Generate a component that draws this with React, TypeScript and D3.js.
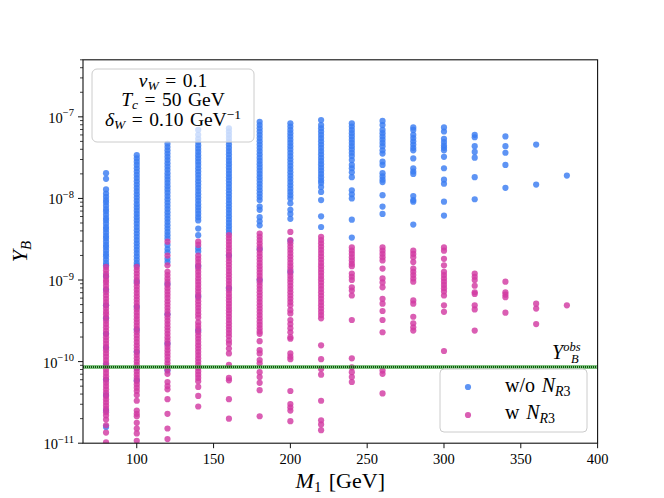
import { useEffect, useRef } from "react";
import * as d3 from "d3";

// M_1 [GeV] of every column in the scan
const masses = [80, 100, 120, 140, 160, 180, 200, 220, 240, 260, 280, 300, 320, 340, 360, 380];

// log10(Y_B), points without N_R3 (blue)
const wo80 = [-7.69, -7.76, -7.89, -7.94, -7.98, -8.02, -8.05, -8.09, -8.13, -8.16, -8.2, -8.24, -8.27, -8.31, -8.35, -8.38, -8.42, -8.46, -8.49, -8.53, -8.57, -8.6, -8.64, -8.68, -8.71, -8.75, -8.79, -8.82, -8.95, -9.12, -9.31, -9.47, -9.66, -9.83, -10.04, -10.22, -10.41, -10.6, -10.8];
const wo100 = [-7.47, -7.51, -7.55, -7.59, -7.63, -7.67, -7.71, -7.75, -7.79, -7.83, -7.87, -7.91, -7.95, -7.99, -8.03, -8.07, -8.11, -8.15, -8.19, -8.23, -8.27, -8.31, -8.35, -8.39, -8.43, -8.47, -8.51, -8.55, -8.59, -8.63, -8.67, -8.71, -8.75, -8.79, -8.82, -9.02, -9.33, -9.61, -9.88, -10.08, -10.23];
const wo120 = [-7.33, -7.37, -7.41, -7.45, -7.49, -7.53, -7.57, -7.61, -7.65, -7.69, -7.73, -7.77, -7.81, -7.85, -7.89, -7.93, -7.97, -8.01, -8.05, -8.09, -8.13, -8.17, -8.21, -8.25, -8.29, -8.33, -8.37, -8.41, -8.45, -8.49, -8.57, -8.62, -8.66, -8.74, -8.78, -9.05, -9.42, -9.78, -10.11];
const wo140 = [-7.16, -7.22, -7.27, -7.31, -7.35, -7.39, -7.43, -7.47, -7.51, -7.55, -7.59, -7.63, -7.67, -7.71, -7.75, -7.79, -7.83, -7.87, -7.91, -7.95, -7.99, -8.03, -8.07, -8.11, -8.15, -8.19, -8.23, -8.27, -8.37, -8.45, -8.61, -8.65, -8.83, -9.2, -9.62];
const wo160 = [-7.14, -7.18, -7.22, -7.26, -7.3, -7.34, -7.38, -7.42, -7.46, -7.5, -7.54, -7.58, -7.62, -7.66, -7.7, -7.74, -7.78, -7.82, -7.86, -7.9, -7.94, -7.98, -8.02, -8.06, -8.1, -8.14, -8.18, -8.22, -8.26, -8.3, -8.34, -8.38, -8.42, -8.7, -9.1];
const wo180 = [-7.06, -7.1, -7.14, -7.18, -7.22, -7.26, -7.3, -7.34, -7.38, -7.42, -7.46, -7.5, -7.54, -7.58, -7.62, -7.66, -7.7, -7.74, -7.78, -7.82, -7.86, -7.9, -7.94, -7.98, -8.02, -8.1, -8.14, -8.23, -8.28, -8.33, -8.62, -9.0];
const wo200 = [-7.08, -7.12, -7.16, -7.2, -7.24, -7.28, -7.32, -7.36, -7.4, -7.44, -7.48, -7.52, -7.56, -7.6, -7.64, -7.68, -7.72, -7.76, -7.8, -7.84, -7.88, -7.92, -7.96, -8.0, -8.06, -8.14, -8.19, -8.25, -8.52, -8.9];
const wo220 = [-7.04, -7.1, -7.14, -7.18, -7.22, -7.26, -7.3, -7.34, -7.38, -7.42, -7.46, -7.5, -7.54, -7.58, -7.62, -7.66, -7.7, -7.74, -7.78, -7.81, -7.86, -7.92, -8.02, -8.22, -8.35];
const wo240 = [-7.08, -7.12, -7.16, -7.2, -7.24, -7.28, -7.32, -7.36, -7.4, -7.44, -7.48, -7.53, -7.59, -7.63, -7.68, -7.74, -7.9, -7.95, -8.0, -8.26, -8.48];
const wo260 = [-7.05, -7.1, -7.16, -7.2, -7.24, -7.28, -7.32, -7.36, -7.41, -7.45, -7.55, -7.59, -7.69, -7.73, -7.77, -7.8, -7.96, -8.1, -8.19];
const wo280 = [-7.13, -7.16, -7.22, -7.26, -7.3, -7.34, -7.38, -7.41, -7.51, -7.63, -7.67, -7.7, -7.97, -8.02, -8.04, -8.32];
const wo300 = [-7.13, -7.18, -7.27, -7.31, -7.35, -7.38, -7.41, -7.49, -7.63, -7.77, -7.82, -8.04, -8.21];
const wo320 = [-7.22, -7.25, -7.36, -7.43, -7.5, -7.74, -8.01];
const wo340 = [-7.24, -7.36, -7.44, -7.59, -7.87];
const wo360 = [-7.34, -7.83];
const wo380 = [-7.72];

// log10(Y_B), points with N_R3 (magenta)
const w80 = [-8.84, -8.88, -8.92, -8.96, -9.0, -9.03, -9.07, -9.11, -9.15, -9.19, -9.23, -9.27, -9.31, -9.35, -9.39, -9.42, -9.46, -9.5, -9.54, -9.58, -9.62, -9.66, -9.7, -9.74, -9.78, -9.82, -9.86, -9.9, -9.94, -9.98, -10.02, -10.06, -10.1, -10.14, -10.18, -10.22, -10.26, -10.3, -10.34, -10.38, -10.42, -10.46, -10.5, -10.54, -10.58, -10.62, -10.66, -10.71, -10.78, -10.87, -10.99];
const w100 = [-8.84, -8.88, -8.92, -8.96, -9.0, -9.04, -9.08, -9.12, -9.16, -9.2, -9.24, -9.28, -9.32, -9.36, -9.4, -9.44, -9.48, -9.52, -9.56, -9.6, -9.64, -9.68, -9.72, -9.76, -9.8, -9.84, -9.88, -9.92, -9.96, -10.0, -10.04, -10.08, -10.12, -10.16, -10.2, -10.24, -10.28, -10.32, -10.36, -10.41, -10.48, -10.6, -10.64, -10.67, -10.75, -10.82, -10.88, -10.97];
const w120 = [-8.53, -8.7, -8.82, -8.9, -8.94, -8.98, -9.02, -9.06, -9.1, -9.14, -9.18, -9.22, -9.26, -9.3, -9.34, -9.38, -9.42, -9.46, -9.5, -9.54, -9.58, -9.62, -9.66, -9.7, -9.74, -9.78, -9.82, -9.86, -9.9, -9.94, -9.98, -10.02, -10.06, -10.1, -10.15, -10.25, -10.3, -10.34, -10.46, -10.64, -10.82, -10.95];
const w140 = [-8.53, -8.57, -8.7, -8.74, -8.78, -8.82, -8.86, -8.9, -8.94, -8.98, -9.02, -9.06, -9.1, -9.14, -9.18, -9.22, -9.26, -9.3, -9.34, -9.38, -9.42, -9.46, -9.52, -9.56, -9.6, -9.64, -9.68, -9.72, -9.76, -9.8, -9.84, -9.88, -9.92, -9.96, -10.0, -10.04, -10.08, -10.12, -10.16, -10.2, -10.24, -10.31, -10.42, -10.55];
const w160 = [-8.45, -8.49, -8.53, -8.57, -8.61, -8.65, -8.69, -8.73, -8.77, -8.81, -8.85, -8.89, -8.93, -8.97, -9.01, -9.05, -9.09, -9.13, -9.17, -9.21, -9.25, -9.29, -9.33, -9.37, -9.41, -9.45, -9.49, -9.53, -9.57, -9.61, -9.65, -9.69, -9.74, -9.78, -9.84, -9.9, -10.04, -10.2, -10.23, -10.46, -10.7];
const w180 = [-8.43, -8.47, -8.51, -8.55, -8.59, -8.63, -8.67, -8.71, -8.75, -8.79, -8.83, -8.87, -8.91, -8.95, -8.99, -9.03, -9.07, -9.11, -9.15, -9.19, -9.23, -9.27, -9.31, -9.35, -9.39, -9.43, -9.47, -9.51, -9.55, -9.59, -9.63, -9.66, -9.75, -9.86, -9.9, -9.98, -10.02, -10.13, -10.19, -10.26, -10.35, -10.67];
const w200 = [-8.41, -8.51, -8.55, -8.59, -8.63, -8.67, -8.71, -8.75, -8.79, -8.83, -8.87, -8.91, -8.95, -8.99, -9.03, -9.07, -9.11, -9.15, -9.19, -9.23, -9.27, -9.31, -9.37, -9.41, -9.49, -9.54, -9.59, -9.64, -9.7, -9.72, -9.9, -9.94, -9.97, -10.36, -10.52, -10.56, -10.6, -10.73];
const w220 = [-8.47, -8.51, -8.55, -8.59, -8.63, -8.67, -8.71, -8.75, -8.79, -8.83, -8.87, -8.91, -8.95, -8.99, -9.03, -9.07, -9.11, -9.15, -9.19, -9.23, -9.27, -9.31, -9.35, -9.39, -9.43, -9.47, -9.8, -9.97, -10.09, -10.16, -10.48, -10.72, -10.77, -10.84];
const w240 = [-8.6, -8.64, -8.68, -8.72, -8.76, -8.8, -8.83, -8.92, -8.96, -9.0, -9.09, -9.13, -9.19, -9.49, -9.96, -10.07, -10.13, -10.19, -10.25];
const w260 = [-8.6, -8.64, -8.68, -8.72, -8.76, -8.86, -8.98, -9.03, -9.09, -9.23, -9.29, -9.38, -9.49, -9.64, -10.11, -10.15, -10.39];
const w280 = [-8.64, -8.68, -8.72, -8.78, -8.86, -8.9, -8.94, -8.98, -9.02, -9.25, -9.29, -9.45, -9.53, -9.58, -9.62];
const w300 = [-8.6, -8.64, -8.74, -8.82, -8.9, -8.94, -8.98, -9.02, -9.06, -9.1, -9.14, -9.19, -9.31, -9.39, -9.87];
const w320 = [-8.92, -8.96, -9.0, -9.07, -9.15, -9.17, -9.31, -9.36, -9.62];
const w340 = [-9.02, -9.15, -9.18, -9.21, -9.4];
const w360 = [-9.29, -9.35, -9.54];
const w380 = [-9.31];

const woNR3 = [wo80, wo100, wo120, wo140, wo160, wo180, wo200, wo220, wo240, wo260, wo280, wo300, wo320, wo340, wo360, wo380];
const wNR3 = [w80, w100, w120, w140, w160, w180, w200, w220, w240, w260, w280, w300, w320, w340, w360, w380];

// observed baryon asymmetry
const yObs = 8.6e-11;

const xTicks = [100, 150, 200, 250, 300, 350, 400];
const yTickExps = [-11, -10, -9, -8, -7];

const BLUE = "#3b7cf2";
const MAGENTA = "#d23aa2";
const FONT = "'Liberation Serif', 'DejaVu Serif', serif";
// a bit wider than a plain space, like TeX's spacing round "="
const EQ = "\u2004=\u2004";

export default function App() {
  const svgRef = useRef<SVGSVGElement>(null);

  useEffect(() => {
    if (!svgRef.current) return;
    const svg = d3.select(svgRef.current);
    svg.selectAll("*").remove();

    // Dimensions (matplotlib default axes box)
    const left = 83, right = 597.6, top = 59.8, bottom = 443.2;

    const x = d3.scaleLinear().domain([65, 400]).range([left, right]);
    const y = d3.scaleLog().domain([1e-11, 5e-7]).range([bottom, top]);

    svg.append("rect").attr("width", 664).attr("height", 498).attr("fill", "white");

    svg
      .append("defs")
      .append("clipPath")
      .attr("id", "plot-clip")
      .append("rect")
      .attr("x", left)
      .attr("y", top)
      .attr("width", right - left)
      .attr("height", bottom - top);

    const plot = svg.append("g").attr("clip-path", "url(#plot-clip)");

    const toPoints = (series: number[][]) =>
      series.flatMap((col, i) => col.map((v) => ({ m: masses[i], yb: Math.pow(10, v) })));

    // Points: blue first, magenta on top
    const drawSeries = (series: number[][], color: string) => {
      plot
        .append("g")
        .selectAll("circle")
        .data(toPoints(series))
        .enter()
        .append("circle")
        .attr("cx", (d) => x(d.m))
        .attr("cy", (d) => y(d.yb))
        .attr("r", 3.1)
        .attr("fill", color)
        .attr("fill-opacity", 0.82);
    };
    drawSeries(woNR3, BLUE);
    drawSeries(wNR3, MAGENTA);

    // Y_B^obs line
    plot
      .append("line")
      .attr("x1", left)
      .attr("x2", right)
      .attr("y1", y(yObs))
      .attr("y2", y(yObs))
      .attr("stroke", "#2e9a2e")
      .attr("stroke-opacity", 0.6)
      .attr("stroke-width", 4);
    plot
      .append("line")
      .attr("x1", left)
      .attr("x2", right)
      .attr("y1", y(yObs))
      .attr("y2", y(yObs))
      .attr("stroke", "#0b5a0b")
      .attr("stroke-width", 2)
      .attr("stroke-dasharray", "1,1");

    // Frame
    svg
      .append("rect")
      .attr("x", left)
      .attr("y", top)
      .attr("width", right - left)
      .attr("height", bottom - top)
      .attr("fill", "none")
      .attr("stroke", "#111")
      .attr("stroke-width", 1.1);

    // X ticks
    const gx = svg.append("g");
    xTicks.forEach((t) => {
      gx.append("line")
        .attr("x1", x(t))
        .attr("x2", x(t))
        .attr("y1", bottom)
        .attr("y2", bottom + 5)
        .attr("stroke", "#111")
        .attr("stroke-width", 1);
      gx.append("text")
        .attr("x", x(t))
        .attr("y", bottom + 21)
        .attr("text-anchor", "middle")
        .style("font-family", FONT)
        .style("font-size", "14.5px")
        .text(String(t));
    });

    // Y ticks: major and log minor
    const gy = svg.append("g");
    yTickExps.forEach((e) => {
      const py = y(Math.pow(10, e));
      gy.append("line")
        .attr("x1", left - 5)
        .attr("x2", left)
        .attr("y1", py)
        .attr("y2", py)
        .attr("stroke", "#111")
        .attr("stroke-width", 1);
      const label = gy
        .append("text")
        .attr("x", left - 9)
        .attr("y", py + 6)
        .attr("text-anchor", "end")
        .style("font-family", FONT)
        .style("font-size", "14.5px");
      label.append("tspan").text("10");
      label
        .append("tspan")
        .attr("dy", -6.5)
        .style("font-size", "10.5px")
        .text("\u2212" + Math.abs(e));
      for (let k = 2; k <= 9; k++) {
        const v = k * Math.pow(10, e);
        if (v > 5e-7) break;
        gy.append("line")
          .attr("x1", left - 3)
          .attr("x2", left)
          .attr("y1", y(v))
          .attr("y2", y(v))
          .attr("stroke", "#111")
          .attr("stroke-width", 0.8);
      }
    });

    // Axis labels
    const xl = svg
      .append("text")
      .attr("x", (left + right) / 2)
      .attr("y", 488)
      .attr("text-anchor", "middle")
      .style("font-family", FONT)
      .style("font-size", "22px");
    xl.append("tspan").style("font-style", "italic").text("M");
    xl.append("tspan").attr("dy", 4).style("font-size", "15px").text("1");
    xl.append("tspan").attr("dy", -4).text("\u2004[GeV]");

    const yl = svg
      .append("text")
      .attr("transform", `translate(27,${(top + bottom) / 2}) rotate(-90)`)
      .attr("text-anchor", "middle")
      .style("font-family", FONT)
      .style("font-size", "22px");
    yl.append("tspan").style("font-style", "italic").text("Y");
    yl.append("tspan").attr("dy", 4).style("font-size", "15px").style("font-style", "italic").text("B");

    // Y_B^obs label
    const obs = svg
      .append("text")
      .attr("x", 552)
      .attr("y", 359)
      .style("font-family", FONT)
      .style("font-size", "20px")
      .style("font-style", "italic");
    obs.append("tspan").text("Y");
    obs.append("tspan").attr("dy", -8).style("font-size", "12.5px").text("obs");
    obs.append("tspan").attr("x", 571).attr("dy", 12).style("font-size", "12.5px").text("B");

    // Parameter box
    svg
      .append("rect")
      .attr("x", 92)
      .attr("y", 69)
      .attr("width", 162)
      .attr("height", 73)
      .attr("rx", 5)
      .attr("fill", "white")
      .attr("fill-opacity", 0.7)
      .attr("stroke", "#cccccc")
      .attr("stroke-width", 1);

    const boxLines: { sym: string; sub: string; rest: string; sup?: string; base: number }[] = [
      { sym: "v", sub: "W", rest: EQ + "0.1", base: 87 },
      { sym: "T", sub: "c", rest: EQ + "50\u2004GeV", base: 106 },
      { sym: "\u03b4", sub: "W", rest: EQ + "0.10\u2004GeV", sup: "\u22121", base: 126 }
    ];
    boxLines.forEach((l) => {
      const t = svg
        .append("text")
        .attr("x", 173)
        .attr("y", l.base)
        .attr("text-anchor", "middle")
        .style("font-family", FONT)
        .style("font-size", "19.5px");
      t.append("tspan").style("font-style", "italic").text(l.sym);
      t.append("tspan").attr("dy", 3).style("font-size", "13.5px").style("font-style", "italic").text(l.sub);
      t.append("tspan").attr("dy", -3).text(l.rest);
      if (l.sup) t.append("tspan").attr("dy", -7).style("font-size", "13.5px").text(l.sup);
    });

    // Legend
    svg
      .append("rect")
      .attr("x", 440)
      .attr("y", 369)
      .attr("width", 147)
      .attr("height", 63)
      .attr("rx", 4)
      .attr("fill", "white")
      .attr("fill-opacity", 0.8)
      .attr("stroke", "#cccccc")
      .attr("stroke-width", 1);

    const legendItems = [
      { color: BLUE, pre: "w/o\u2004", cy: 387, base: 392 },
      { color: MAGENTA, pre: "w\u2004", cy: 415, base: 419 }
    ];
    legendItems.forEach((it) => {
      svg
        .append("circle")
        .attr("cx", 468)
        .attr("cy", it.cy)
        .attr("r", 3.1)
        .attr("fill", it.color)
        .attr("fill-opacity", 0.82);
      const t = svg
        .append("text")
        .attr("x", 505)
        .attr("y", it.base)
        .style("font-family", FONT)
        .style("font-size", "20px");
      t.append("tspan").text(it.pre);
      t.append("tspan").style("font-style", "italic").text("N");
      t.append("tspan").attr("dy", 4).style("font-size", "14px").style("font-style", "italic").text("R");
      t.append("tspan").style("font-size", "14px").text("3");
    });
  }, []);

  return (
    <svg
      ref={svgRef}
      width={664}
      height={498}
      style={{ position: "fixed", left: 0, top: 0, display: "block" }}
    />
  );
}
